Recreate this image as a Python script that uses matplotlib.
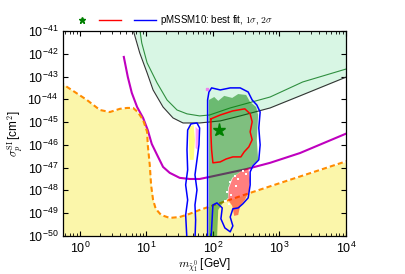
"""Spin-independent cross-section vs neutralino mass for the pMSSM10 fit."""

import matplotlib

matplotlib.use("Agg")
import matplotlib.pyplot as plt
import numpy as np
from matplotlib.lines import Line2D
from matplotlib.ticker import LogLocator, LogFormatterMathtext, NullLocator

plt.rcParams["font.family"] = ["Liberation Sans", "DejaVu Sans"]
plt.rcParams["mathtext.fontset"] = "cm"

# all curves: log10(mass / GeV), log10(sigma / cm^2)
floor_logm = [-0.30, -0.24, 0.105, 0.30, 0.45, 0.60, 0.71, 0.80, 0.87, 0.95, 1.01,
              1.02, 1.05, 1.07, 1.10, 1.14, 1.22, 1.35, 1.50, 1.65, 1.80, 2.56, 4.05]
floor_logs = [-43.2, -43.37, -44.03, -44.47, -44.56, -44.42, -44.38, -44.38, -44.56,
              -44.91, -45.43, -46.0, -46.88, -47.76, -48.42, -48.81, -49.08, -49.21,
              -49.17, -49.03, -48.86, -48.11, -46.68]

lux_logm = [0.66, 0.72, 0.78, 0.86, 0.95, 1.02, 1.08, 1.16, 1.25, 1.35, 1.50, 1.65,
            1.80, 1.95, 2.51, 2.86, 3.31, 4.05]
lux_logs = [-42.14, -43.02, -43.72, -44.34, -44.82, -45.35, -45.96, -46.44, -46.97,
            -47.23, -47.45, -47.50, -47.50, -47.41, -47.06, -46.79, -46.36, -45.45]

excl_logm = [0.78, 0.83, 0.90, 1.01, 1.10, 1.25, 1.40, 1.55, 1.80, 2.11, 2.41, 2.86,
             3.31, 4.05]
excl_logs = [-40.74, -41.26, -41.97, -42.84, -43.59, -44.34, -44.82, -45.04, -45.04,
             -44.95, -44.73, -44.38, -43.85, -42.97]

proj_logm = [0.89, 0.93, 1.01, 1.16, 1.31, 1.46, 1.61, 1.80, 1.95, 2.26, 2.86, 3.35,
             4.05]
proj_logs = [-40.74, -41.53, -42.40, -43.28, -44.03, -44.47, -44.64, -44.73, -44.69,
             -44.38, -43.90, -43.24, -42.63]

# 2 sigma contour, chargino/stop/sbottom region
c2_logm = [1.92, 1.92, 1.94, 1.98, 2.11, 2.26, 2.41, 2.53, 2.59, 2.66, 2.71, 2.69,
           2.71, 2.69, 2.60, 2.56, 2.56, 2.53, 2.45, 2.38, 2.30, 2.26, 2.30, 2.26,
           2.18, 2.12, 2.14, 2.06, 2.00, 1.97]
c2_logs = [-50.2, -44.03, -43.68, -43.50, -43.59, -43.50, -43.50, -43.68, -44.03,
           -44.25, -44.56, -45.26, -46.00, -46.66, -46.93, -47.19, -47.76, -48.33,
           -48.59, -48.77, -48.81, -49.17, -49.56, -49.82, -49.65, -49.25, -48.77,
           -48.55, -48.64, -50.2]

# 2 sigma contour, Z funnel
zf_logm = [1.61, 1.59, 1.62, 1.59, 1.62, 1.61, 1.62, 1.67, 1.76, 1.80, 1.79, 1.76,
           1.73, 1.76, 1.73, 1.74, 1.73]
zf_logs = [-50.2, -49.08, -48.42, -47.76, -47.10, -46.22, -45.35, -45.08, -45.04,
           -45.26, -46.00, -46.66, -47.32, -47.98, -48.64, -49.30, -50.2]

# 1 sigma contour
c1_logm = [1.97, 2.11, 2.30, 2.48, 2.56, 2.59, 2.56, 2.59, 2.54, 2.47, 2.42, 2.30,
           2.20, 2.11, 2.00, 1.98, 1.97, 1.97]
c1_logs = [-44.86, -44.69, -44.51, -44.42, -44.64, -44.99, -45.43, -45.78, -46.09,
           -46.31, -46.53, -46.53, -46.62, -46.75, -46.79, -46.22, -45.57, -44.86]

# shaded regions inside the 2 sigma contour
green_logm = [1.94, 1.94, 2.02, 2.08, 2.17, 2.29, 2.38, 2.50, 2.56, 2.65, 2.68, 2.66,
              2.68, 2.56, 2.41, 2.29, 2.23, 2.23, 2.14, 2.08, 2.06]
green_logs = [-50.2, -44.03, -43.90, -44.07, -43.85, -43.94, -43.77, -43.81, -44.12,
              -44.34, -44.69, -45.78, -46.66, -47.01, -47.19, -47.45, -47.89, -48.33,
              -48.59, -48.86, -50.2]

pink_logm = [2.30, 2.41, 2.53, 2.56, 2.54, 2.48, 2.41, 2.38, 2.32, 2.29, 2.23, 2.24]
pink_logs = [-47.45, -47.19, -47.01, -47.54, -48.07, -48.42, -48.68, -49.08, -49.12,
             -48.68, -48.42, -47.89]

zf_yellow_logm = [1.64, 1.71, 1.73, 1.71, 1.65, 1.64]
zf_yellow_logs = [-45.21, -45.13, -45.78, -46.66, -46.66, -46.00]
zf_pink_logm = [1.74, 1.79, 1.77, 1.74]
zf_pink_logs = [-45.21, -45.35, -46.22, -46.14]

# white speckles along the pink / green boundary
speck_logm = [2.26, 2.33, 2.38, 2.45, 2.50, 2.21, 2.27, 2.35, 2.18, 2.24]
speck_logs = [-47.62, -47.35, -47.50, -47.15, -47.30, -48.05, -48.20, -47.80, -48.45, -48.62]

best_fit = (2.09, -45.35)
stray_point = (1.91, -43.55)


def gev(values):
    return 10.0 ** np.asarray(values)


fig = plt.figure(figsize=(4.06, 2.74), dpi=100)
ax = fig.add_axes([0.155, 0.139, 0.697, 0.748])
ax.set_xscale("log")
ax.set_yscale("log")

ax.fill_between(gev(excl_logm), gev(excl_logs), 1e-39, color="#d8f6e4", lw=0, zorder=1)
ax.fill_between(gev(floor_logm), 1e-52, gev(floor_logs), color="#fbf6aa", lw=0, zorder=1)
ax.plot(gev(excl_logm), gev(excl_logs), color="#333333", lw=0.8, zorder=2)
ax.plot(gev(proj_logm), gev(proj_logs), color="#2f8f3f", lw=0.8, zorder=2)
ax.plot(gev(lux_logm), gev(lux_logs), color="m", lw=1.5, zorder=2)
ax.plot(gev(floor_logm), gev(floor_logs), color="darkorange", lw=1.5,
        dashes=(2.5, 1.5), zorder=2)

ax.fill(gev(green_logm), gev(green_logs), color="green", alpha=0.5, lw=0, zorder=3)
ax.fill(gev(pink_logm), gev(pink_logs), color="red", alpha=0.5, lw=0, zorder=3)
ax.fill(gev(zf_yellow_logm), gev(zf_yellow_logs), color="yellow", alpha=0.5, lw=0, zorder=3)
ax.fill(gev(zf_pink_logm), gev(zf_pink_logs), color="magenta", alpha=0.4, lw=0, zorder=3)
ax.plot(gev(speck_logm), gev(speck_logs), "s", color="white", ms=1.6, mew=0, zorder=3)

ax.plot(gev(c2_logm), gev(c2_logs), color="b", lw=1.1, zorder=4)
ax.plot(gev(zf_logm), gev(zf_logs), color="b", lw=1.1, zorder=4)
ax.plot(gev(c1_logm), gev(c1_logs), color="r", lw=1.1, zorder=4)
ax.plot(10 ** stray_point[0], 10 ** stray_point[1], "s", color="violet", ms=1.5, zorder=4)
ax.plot(10 ** best_fit[0], 10 ** best_fit[1], "*", color="green", ms=9.5, mec="green",
        zorder=5)

ax.set_xlim(0.555, 1e4)
ax.set_ylim(1e-50, 1e-41)
ax.xaxis.set_major_locator(LogLocator(base=10, numticks=10))
ax.xaxis.set_minor_locator(LogLocator(base=10, subs=np.arange(2, 10), numticks=20))
ax.yaxis.set_major_locator(LogLocator(base=10, numticks=20))
ax.yaxis.set_minor_locator(NullLocator())
ax.yaxis.set_major_formatter(LogFormatterMathtext())
ax.tick_params(which="both", direction="in", top=True, right=True, labelsize=9)
ax.tick_params(which="major", length=3.5, width=0.8)
ax.tick_params(which="minor", length=2, width=0.6)
for spine in ax.spines.values():
    spine.set_linewidth(0.9)

ax.set_xlabel(r"$m_{\tilde\chi^0_1}\,$[GeV]", fontsize=8.5, labelpad=1)
ax.set_ylabel(r"$\sigma_p^{\rm SI}\,$[cm$^2$]", fontsize=8.5, labelpad=1)

star_handle = Line2D([], [], ls="none", marker="*", color="green", ms=5)
red_handle = Line2D([], [], color="r", lw=1.0)
blue_handle = Line2D([], [], color="b", lw=1.0)
legend_style = dict(loc="center left", frameon=False, fontsize=7, handlelength=2.27,
                    borderpad=0, borderaxespad=0)
fig.legend([star_handle, red_handle], ["", ""], ncol=2, bbox_to_anchor=(0.175, 0.927),
           handletextpad=0.3, columnspacing=0.3, **legend_style)
fig.legend([blue_handle], [r"pMSSM10: best fit, $1\sigma$, $2\sigma$"],
           bbox_to_anchor=(0.330, 0.927), handletextpad=0.4, **legend_style)

fig.savefig("out.png", dpi=100)
